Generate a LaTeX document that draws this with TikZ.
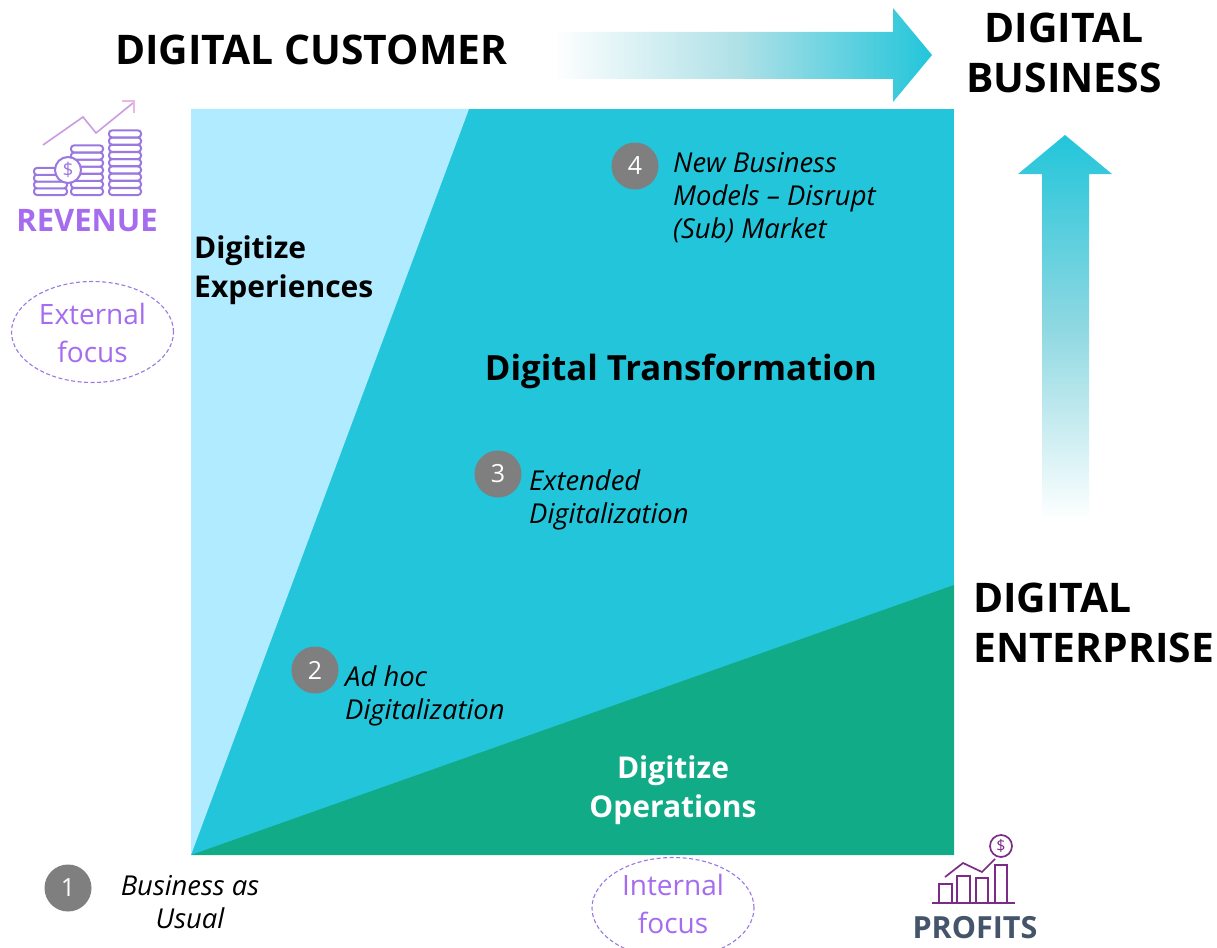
\documentclass[tikz,border=0pt]{standalone}
\usepackage{fontspec}
\setmainfont{Open Sans}
\definecolor{teal1}{HTML}{22C5DA}
\definecolor{sky1}{HTML}{B0EBFF}
\definecolor{green1}{HTML}{12AB87}
\definecolor{purp}{HTML}{A56CEF}
\definecolor{purpline}{HTML}{9B78E0}
\definecolor{pinkl}{HTML}{E8B8E0}
\definecolor{slate1}{HTML}{44546A}
\definecolor{plum}{HTML}{7B2C86}
\definecolor{grey1}{HTML}{7F7F7F}
\usetikzlibrary{shapes.geometric}
\tikzset{
  head/.style={font=\fontsize{40.8}{50}\selectfont\bfseries,text=black,align=center,inner sep=0pt},
  zone/.style={font=\fontsize{30}{38.5}\selectfont\bfseries,align=left,inner sep=0pt},
  item/.style={font=\fontsize{27.4}{33}\selectfont\itshape,align=left,inner sep=0pt,text=black},
  badge/.style={circle,fill=grey1,text=white,minimum size=47pt,inner sep=0pt,font=\fontsize{25}{25}\selectfont},
  focusring/.style={ellipse,draw=purpline,dashed,dash pattern=on 4pt off 2.5pt,line width=1.1pt,inner sep=0pt,minimum width=162pt,minimum height=101pt},
  focustext/.style={text=purp,align=center,inner sep=0pt,font=\fontsize{28}{38.5}\selectfont},
  coin/.style={draw=purpline,line width=2pt,rounded corners=3pt,fill=white},
}
\begin{document}
\begin{tikzpicture}[x=1pt,y=-1pt]
\useasboundingbox (0,0) rectangle (1217,947);
\fill[white] (0,0) rectangle (1217,947);
% square
\fill[teal1] (191,109) rectangle (954,855);
\fill[sky1] (191,109) -- (469,109) -- (191,855) -- cycle;
\fill[green1] (191,855) -- (954,585) -- (954,855) -- cycle;
% arrows
\shade[left color=white,right color=teal1,middle color=teal1!35!white!90!gray]
  (553,32) -- (893,32) -- (893,8) -- (932,55) -- (893,102) -- (893,79) -- (553,79) -- cycle;
\shade[top color=teal1,bottom color=white,middle color=teal1!50!white!90!gray]
  (1065,135) -- (1112,174) -- (1089,174) -- (1089,520) -- (1042,520) -- (1042,174) -- (1018,174) -- cycle;
% headings
\node[head,anchor=west] (cust) at (115,50) {DIGITAL CUSTOMER};
\node[head] (biz) at (1064,53) {DIGITAL\\BUSINESS};
\node[head,align=left,anchor=west] (ent) at (973,623) {DIGITAL\\ENTERPRISE};
% zones
\node[zone,anchor=west] (exp) at (194,270) {Digitize\\Experiences};
\node[zone,font=\fontsize{34.7}{40}\selectfont\bfseries,anchor=center] (dt) at (681,371) {Digital Transformation};
\node[zone,text=white,align=center] (ops) at (673,790) {Digitize\\Operations};
% badges & items
\node[badge] (b1) at (68,888) {1};
\node[item,align=center] (t1) at (190,902) {Business as\\Usual};
\node[badge] (b2) at (315,670) {2};
\node[item,anchor=west] (t2) at (345,696) {Ad hoc\\Digitalization};
\node[badge] (b3) at (498,474) {3};
\node[item,anchor=west] (t3) at (529,500) {Extended\\Digitalization};
\node[badge] (b4) at (635,166) {4};
\node[item,anchor=west] (t4) at (673,198) {New Business\\Models -- Disrupt\\(Sub) Market};
% focus ellipses
\node[focusring] (ext) at (92.5,332) {};
\node[focustext] (extT) at (92.5,333) {External\\focus};
\node[focusring] (int) at (673,908) {};
\node[focustext] (intT) at (673,904) {Internal\\focus};
% revenue icon
\foreach \i in {0,...,3} \draw[coin] (34,{188-\i*6.7}) rectangle (67,{195-\i*6.7});
\foreach \i in {0,...,6} \draw[coin] (71,{188-\i*7.1}) rectangle (103,{195-\i*7.1});
\foreach \i in {0,...,8} \draw[coin] (109,{188-\i*7.2}) rectangle (141,{195-\i*7.2});
\node[circle,draw=purpline,line width=2pt,fill=white,minimum size=26pt,inner sep=0pt,text=purpline,font=\fontsize{19}{19}\selectfont] (coinS) at (68,170) {\$};
\draw[pinkl!60!purpline,line width=1.6pt] (43,145) -- (83,117) -- (96,133) -- (133,103);
\draw[pinkl,line width=2pt] (122,101) -- (134,101) -- (134,113);
\node[font=\fontsize{31}{36}\selectfont\bfseries,text=purp,inner sep=0pt] (rev) at (87,221) {REVENUE};
% profits icon
\draw[plum,line width=1.7pt] (932,903) -- (1015,903);
\draw[plum,line width=1.7pt] (939,903) |- (952,884) -- (952,903);
\draw[plum,line width=1.7pt] (957,903) |- (970,876) -- (970,903);
\draw[plum,line width=1.7pt] (976,903) |- (988,878) -- (988,903);
\draw[plum,line width=1.7pt] (995,903) |- (1007,865) -- (1007,903);
\draw[plum,line width=1.7pt] (945,877) -- (963,863) -- (982,872) -- (995,859);
\node[circle,draw=plum,line width=1.7pt,minimum size=22pt,inner sep=0pt,text=plum,font=\fontsize{16}{16}\selectfont] (prof) at (1001,846) {\$};
\node[font=\fontsize{30.5}{36}\selectfont\bfseries,text=slate1,inner sep=0pt] (pr) at (975,928) {PROFITS};
\end{tikzpicture}
\end{document}
